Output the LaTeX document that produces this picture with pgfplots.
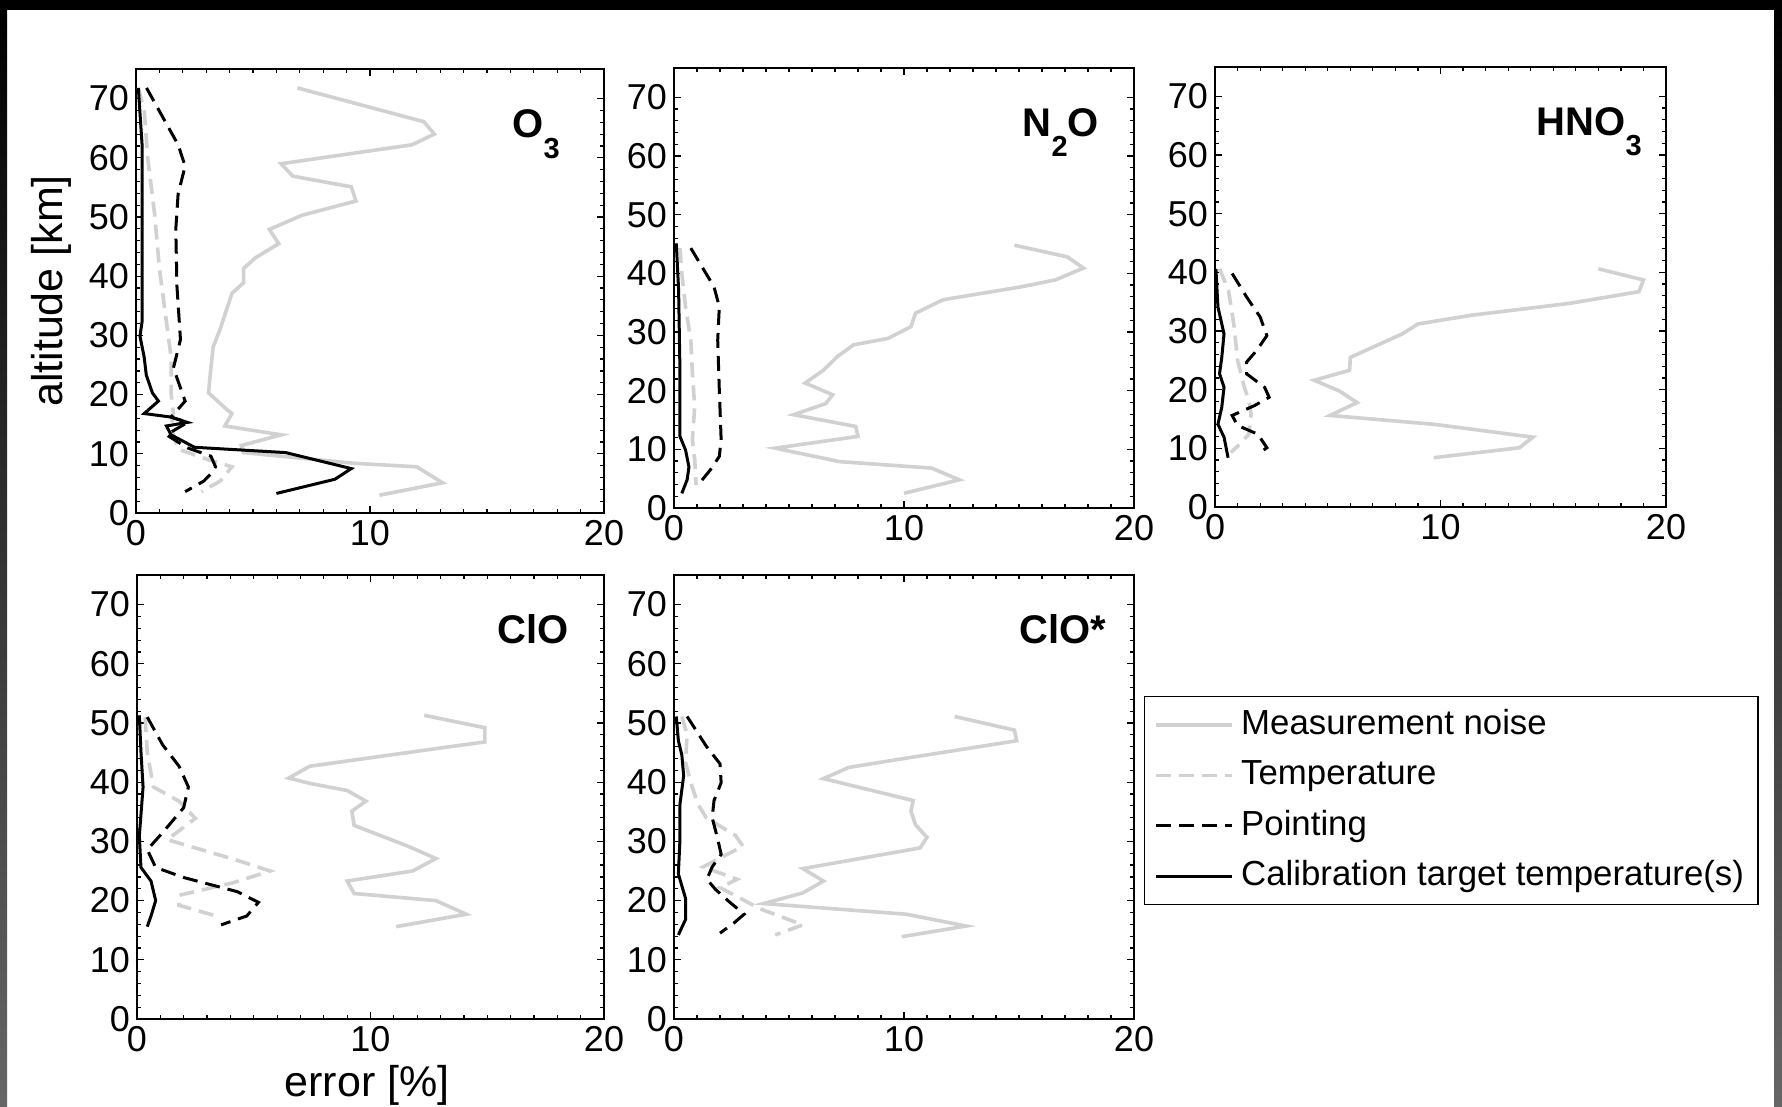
\documentclass[border=0pt]{standalone}
\usepackage{fontspec}
\setmainfont{Liberation Sans}
\usepackage{pgfplots}
\pgfplotsset{compat=1.18}

\definecolor{lgray}{gray}{0.82}
\newcommand\sub[1]{\raisebox{-0.52em}{\fontsize{14.5}{14.5}\selectfont #1}}

\tikzset{
  ttl/.style={anchor=base west, inner sep=0pt, font=\fontsize{20}{20}\selectfont\bfseries},
}

\pgfplotsset{
  panel/.style={
    scale only axis, anchor=south west,
    xmin=0, xmax=20, ymin=0, ymax=75,
    xtick={0,10,20}, ytick={0,10,...,70},
    minor x tick num=9, minor y tick num=4,
    tick align=inside, xtick pos=both, ytick pos=both,
    xticklabel pos=lower, yticklabel pos=left,
    major tick length=3.5pt, minor tick length=2pt,
    axis line style={line width=0.8pt},
    every tick/.append style={black, line width=0.6pt},
    /pgf/number format/assume math mode=true,
    ticklabel style={font=\fontsize{18}{18}\selectfont},
    legend image code/.code={\draw[##1] (0pt,0pt) -- (38pt,0pt);},
  },
  noise/.style={lgray, line width=1.8pt},
  temp/.style={lgray, line width=1.8pt, dash pattern=on 7.5pt off 4pt},
  point/.style={black, line width=1.5pt, dash pattern=on 7.5pt off 4pt},
  calib/.style={black, line width=1.5pt},
}

\begin{document}
\begin{tikzpicture}
\fill[white] (0,0) rectangle (891pt,553.5pt);
% dark frame along the top and sides
\fill[black] (0,548.5pt) rectangle (891pt,553.5pt);
\shade[top color=black, bottom color=black!60] (0,0) rectangle (3.5pt,548.5pt);
\shade[top color=black, bottom color=black!60] (887pt,0) rectangle (891pt,548.5pt);

% ---------------- O3 ----------------
\begin{axis}[panel, at={(68pt,297pt)}, width=234pt, height=222pt,
  ylabel={altitude [km]},
  ylabel style={font=\fontsize{21.5}{21.5}\selectfont, at={(axis description cs:-0.1816,0.5)}, anchor=center, rotate=0}]
\addplot[noise] coordinates {(6.9,71.8)(12.3,66.1)(12.75,64.0)(11.8,62.2)(6.2,59.0)(6.7,56.9)(9.2,55.1)(9.4,52.7)(7.1,50.3)(5.7,47.9)(6.1,45.5)(5.1,43.1)(4.6,41.3)(4.6,38.9)(4.1,37.1)(3.8,33.5)(3.6,31.1)(3.3,28.1)(3.2,24.5)(3.1,20.3)(3.9,17.4)(4.1,16.8)(3.8,14.7)(6.2,13.2)(4.5,11.4)(4.6,10.2)(9.3,8.4)(12.0,7.8)(13.1,5.1)(10.4,3.0)};
\addplot[temp] coordinates {(0.1,71.8)(0.35,68)(0.5,60)(0.8,50.3)(1.0,41.3)(1.3,32.3)(1.5,26.3)(1.5,20.3)(1.6,16.8)(1.5,14.4)(1.8,10.8)(3.1,9.0)(4.1,7.8)(3.6,5.4)(2.8,3.6)};
\addplot[point] coordinates {(0.45,71.8)(1.8,62.2)(2.1,58.6)(1.8,53.9)(1.7,47.9)(1.75,38.3)(1.9,29.3)(1.6,24.5)(2.1,18.9)(1.5,16.2)(2.2,15.3)(1.3,13.2)(2.2,11.0)(3.2,9.6)(3.4,7.8)(3.2,6.6)(2.9,5.4)(2.1,3.6)};
\addplot[calib] coordinates {(0.1,71.8)(0.26,62.2)(0.26,32.3)(0.17,29.9)(0.35,26.3)(0.44,23.3)(0.7,20.3)(0.96,18.9)(0.35,16.8)(1.5,16.2)(2.2,15.3)(1.3,14.7)(1.5,13.2)(2.5,11.1)(6.4,10.2)(9.2,7.5)(8.5,5.7)(6.0,3.3)};
\node[ttl] at (axis cs:16.07,63.4) {O\sub{3}};
\end{axis}

% ---------------- N2O ----------------
\begin{axis}[panel, at={(337pt,299.5pt)}, width=230pt, height=220pt]
\addplot[noise] coordinates {(14.8,44.8)(17.1,42.8)(17.8,40.9)(16.6,38.9)(15.1,37.7)(11.7,35.5)(10.5,33.2)(10.3,30.9)(9.3,28.9)(7.8,27.8)(7.1,25.8)(6.5,23.5)(5.7,21.3)(6.9,19.3)(6.6,17.8)(5.2,15.9)(7.9,13.9)(8.0,12.2)(4.4,10.2)(7.2,7.9)(11.2,6.8)(12.4,4.8)(10.0,2.5)};
\addplot[temp] coordinates {(0.26,44.3)(0.34,40)(0.5,34.3)(0.73,28.6)(0.8,23)(0.9,17.3)(0.8,11.6)(0.9,8.2)(0.96,3.9)};
\addplot[point] coordinates {(0.73,44.3)(1.74,37.7)(1.97,34.3)(1.9,28.6)(1.97,20.1)(2.05,11.6)(1.97,8.8)(1.58,6.5)(1.04,3.9)};
\addplot[calib] coordinates {(0.1,45.1)(0.2,37.2)(0.26,23)(0.26,12.2)(0.5,9.9)(0.65,7.0)(0.57,4.8)(0.34,2.5)};
\node[ttl] at (axis cs:15.15,63.4) {N\sub{2}O};
\end{axis}

% ---------------- HNO3 ----------------
\begin{axis}[panel, at={(607.5pt,300pt)}, width=225.5pt, height=220pt]
\addplot[noise] coordinates {(17.0,40.6)(19.0,38.7)(18.8,36.7)(15.7,34.7)(11.4,32.7)(9.0,31.2)(8.3,29.5)(6.0,25.5)(5.97,23.3)(4.4,21.6)(5.5,19.8)(6.3,17.8)(5.1,15.6)(9.7,14.1)(14.1,11.9)(13.5,10.1)(9.7,8.4)};
\addplot[temp] coordinates {(0.2,40.6)(0.6,36.9)(0.85,30.7)(1.0,25)(1.3,20.4)(1.5,18.1)(1.6,15.8)(1.5,12.4)(1.1,10.7)(0.7,9.3)};
\addplot[point] coordinates {(0.76,39.8)(1.4,35.8)(2.0,32.4)(2.3,29.2)(1.85,26.7)(1.4,24.7)(1.4,22.7)(2.2,20.4)(2.4,18.7)(1.76,17.3)(0.76,15.6)(1.0,13.9)(1.9,12.4)(2.3,10.1)(2.0,9.3)};
\addplot[calib] coordinates {(0.04,40.6)(0.13,34.1)(0.4,29.5)(0.3,25.5)(0.2,22.7)(0.4,20.4)(0.3,17)(0.13,14.1)(0.4,11.9)(0.58,8.4)};
\node[ttl] at (axis cs:14.25,63.4) {HNO\sub{3}};
\end{axis}

% ---------------- ClO ----------------
\begin{axis}[panel, at={(68.5pt,44pt)}, width=233.5pt, height=222pt,
  xlabel={error [\%]},
  xlabel style={font=\fontsize{21.5}{21.5}\selectfont, at={(axis description cs:0.4925,-0.1486)}, anchor=center}]
\addplot[noise] coordinates {(12.3,51.3)(14.9,49.2)(14.9,46.8)(13.4,46.0)(7.4,42.7)(6.5,40.7)(7.4,39.8)(9.0,38.6)(9.8,36.8)(9.2,35.1)(9.3,32.7)(11.6,29.2)(12.8,27.1)(11.8,25.0)(9.0,23.3)(9.3,21.2)(12.8,20.0)(14.1,17.7)(11.1,15.6)};
\addplot[temp] coordinates {(0.35,51.0)(0.44,45.1)(0.7,39.2)(1.8,36.8)(2.5,33.9)(1.3,30.3)(4.3,26.8)(5.7,25.0)(4.1,23.0)(1.8,20.9)(1.8,19.2)(3.4,17.4)};
\addplot[point] coordinates {(0.44,51.0)(1.1,46.3)(1.8,42.7)(2.2,39.2)(2.0,35.7)(1.1,31.5)(0.44,28.6)(0.8,25.6)(2.0,23.9)(4.3,21.5)(5.2,19.7)(4.7,17.4)(3.6,15.9)};
\addplot[calib] coordinates {(0.1,51.3)(0.17,45.1)(0.26,39.2)(0.1,30.9)(0.17,25.6)(0.6,23.3)(0.8,20.0)(0.6,17.4)(0.44,15.6)};
\node[ttl] at (axis cs:15.42,63.4) {ClO};
\end{axis}

% ---------------- ClO* ----------------
\begin{axis}[panel, at={(337pt,44pt)}, width=230pt, height=222pt,
  legend cell align=left,
  legend style={at={(1.0217,0.7275)}, anchor=north west, draw=black, line width=0.6pt,
    fill=white, inner xsep=5pt, inner ysep=4.5pt, row sep=5.7pt,
    font=\fontsize{17.4}{17.4}\selectfont,
    nodes={inner sep=2pt, text height=12.5pt, text depth=3pt},
    /tikz/every odd column/.append style={column sep=1.5pt}}]
\addplot[noise] coordinates {(12.2,51.1)(14.8,48.8)(14.9,47.0)(10.0,44.0)(7.6,42.5)(6.5,40.6)(10.4,36.9)(10.3,35.1)(10.5,32.8)(11.0,30.7)(10.7,28.9)(5.6,25.4)(6.5,23.3)(5.6,21.3)(3.9,19.5)(10.1,17.7)(12.7,15.7)(9.9,13.9)};
\addplot[temp] coordinates {(0.34,51.1)(0.57,48.1)(0.5,43.4)(0.73,39.9)(1.04,36.3)(1.4,34.0)(2.67,31.0)(3.0,29.2)(1.27,25.7)(2.74,23.6)(2.0,22.2)(3.75,18.6)(5.6,15.9)(4.4,14.2)};
\addplot[point] coordinates {(0.57,51.1)(1.4,46.1)(2.0,43.1)(2.05,39.9)(1.74,36.9)(1.66,34.0)(1.9,30.4)(2.05,27.8)(1.66,25.7)(1.43,23.6)(1.8,21.9)(2.4,19.8)(3.05,17.7)(2.6,16.2)(2.0,14.5)};
\addplot[calib] coordinates {(0.1,51.1)(0.19,47.0)(0.34,44.6)(0.42,41.1)(0.26,36.3)(0.26,30.4)(0.19,24.5)(0.5,20.4)(0.5,16.8)(0.19,14.2)};
\node[ttl] at (axis cs:15.0,63.4) {ClO*};
\legend{Measurement noise, Temperature, Pointing, Calibration target temperature(s)}
\end{axis}

\pgfresetboundingbox
\useasboundingbox (0,0) rectangle (891pt,553.5pt);
\end{tikzpicture}
\end{document}
